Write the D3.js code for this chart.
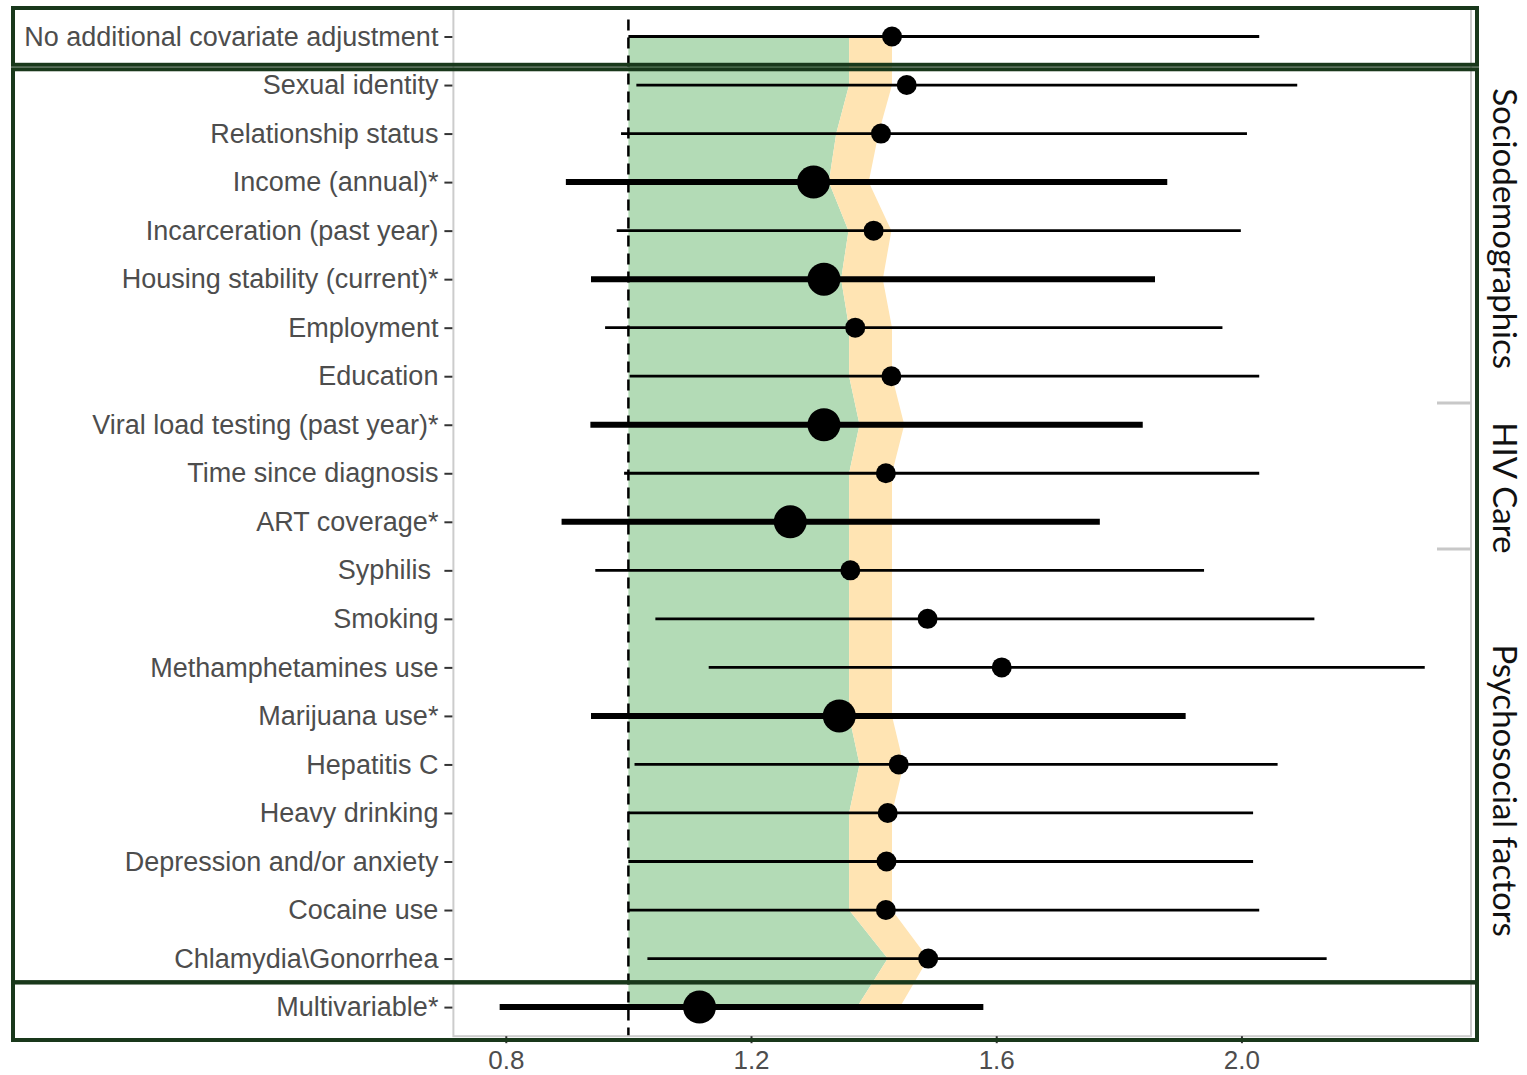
<!DOCTYPE html>
<html>
<head>
<meta charset="utf-8">
<script src="https://cdn.jsdelivr.net/npm/d3@7"></script>
<style>
  html, body { margin: 0; padding: 0; background: #ffffff; }
  svg { display: block; }
  text { white-space: pre; }
</style>
</head>
<body>
<svg id="chart" width="1527" height="1075"></svg>
<script>
// Covariates, top to bottom
const labels = [
  "No additional covariate adjustment",
  "Sexual identity",
  "Relationship status",
  "Income (annual)*",
  "Incarceration (past year)",
  "Housing stability (current)*",
  "Employment",
  "Education",
  "Viral load testing (past year)*",
  "Time since diagnosis",
  "ART coverage*",
  "Syphilis ",
  "Smoking",
  "Methamphetamines use",
  "Marijuana use*",
  "Hepatitis C",
  "Heavy drinking",
  "Depression and/or anxiety",
  "Cocaine use",
  "Chlamydia\\Gonorrhea",
  "Multivariable*"
];

// Point estimates with 95% confidence limits
const estimate = [1.430, 1.454, 1.412, 1.302, 1.400, 1.319, 1.370, 1.429, 1.319, 1.420,
                  1.264, 1.362, 1.488, 1.609, 1.344, 1.441, 1.423, 1.421, 1.420, 1.489, 1.116];
const lower    = [1.000, 1.013, 0.988, 0.898, 0.981, 0.939, 0.962, 1.002, 0.938, 0.993,
                  0.891, 0.946, 1.044, 1.131, 0.939, 1.010, 1.000, 1.000, 1.000, 1.031, 0.790];
const upper    = [2.029, 2.091, 2.009, 1.879, 1.999, 1.859, 1.969, 2.029, 1.839, 2.029,
                  1.769, 1.939, 2.119, 2.299, 1.909, 2.059, 2.019, 2.019, 2.029, 2.139, 1.579];

// Covariates that changed the estimate (drawn heavier)
const flagged  = [0, 0, 0, 1, 0, 1, 0, 0, 1, 0, 1, 0, 0, 0, 1, 0, 0, 0, 0, 0, 1];

// Shaded reference band: green from 1 to bandLow, orange from bandLow to bandHigh
const bandLow  = [1.360, 1.360, 1.339, 1.327, 1.359, 1.347, 1.360, 1.360, 1.377, 1.360,
                  1.360, 1.360, 1.360, 1.360, 1.360, 1.377, 1.360, 1.360, 1.360, 1.423, 1.373];
const bandHigh = [1.430, 1.430, 1.408, 1.392, 1.429, 1.415, 1.430, 1.430, 1.450, 1.430,
                  1.430, 1.430, 1.430, 1.430, 1.430, 1.449, 1.430, 1.430, 1.430, 1.489, 1.443];

const xTicks = [0.8, 1.2, 1.6, 2.0];
const nullValue = 1;

// Covariate groups shown on the right: label position (row units) and separators
const groupNames = ["Sociodemographics", "HIV Care", "Psychosocial factors"];
const groupLabelAt = [3.96, 9.3, 15.54];
const groupBreaks = [7.55, 10.56];

const svg = d3.select("#chart");
const W = 1527, H = 1075;
svg.append("rect").attr("width", W).attr("height", H).attr("fill", "#ffffff");

const panel = { left: 453.4, right: 1471, top: 7.4, bottom: 1036.2 };
const n = labels.length;
const idx = d3.range(n);

// x scale with 5% expansion on either side of the data
const lo = d3.min(lower), hi = d3.max(upper), pad = (hi - lo) * 0.05;
const x = d3.scaleLinear().domain([lo - pad, hi + pad]).range([panel.left, panel.right]);
// discrete rows with 0.6 step of padding at each end
const y = d3.scaleLinear().domain([-0.6, n - 1 + 0.6]).range([panel.top, panel.bottom]);

const g = svg.append("g");

// bands
const greenArea = d3.area().curve(d3.curveLinear)
  .y(i => y(i)).x0(() => x(nullValue)).x1(i => x(bandLow[i]));
const orangeArea = d3.area().curve(d3.curveLinear)
  .y(i => y(i)).x0(i => x(bandLow[i])).x1(i => x(bandHigh[i]));
g.append("path").attr("d", greenArea(idx)).attr("fill", "#b3dbb6");
g.append("path").attr("d", orangeArea(idx)).attr("fill", "#ffe4b3");

// null line
g.append("line")
  .attr("x1", x(nullValue)).attr("x2", x(nullValue))
  .attr("y1", panel.top + 12).attr("y2", panel.bottom)
  .attr("stroke", "#000").attr("stroke-width", 2.5)
  .attr("stroke-dasharray", "11,7");

// confidence intervals
g.selectAll("line.ci").data(idx).join("line")
  .attr("class", "ci")
  .attr("x1", i => x(lower[i])).attr("x2", i => x(upper[i]))
  .attr("y1", i => y(i)).attr("y2", i => y(i))
  .attr("stroke", "#000")
  .attr("stroke-width", i => flagged[i] ? 6 : 2.8);

// point estimates
g.selectAll("circle.pt").data(idx).join("circle")
  .attr("class", "pt")
  .attr("cx", i => x(estimate[i])).attr("cy", i => y(i))
  .attr("r", i => flagged[i] ? 16.5 : 10)
  .attr("fill", "#000");

// panel border
svg.append("rect")
  .attr("x", panel.left).attr("y", panel.top)
  .attr("width", panel.right - panel.left).attr("height", panel.bottom - panel.top)
  .attr("fill", "none").attr("stroke", "#cccccc").attr("stroke-width", 2);

// y axis
const yAxis = svg.append("g")
  .attr("transform", `translate(${panel.left - 1},0)`)
  .call(d3.axisLeft(y).tickValues(idx).tickFormat(i => labels[i]).tickSize(8).tickPadding(6));
yAxis.select(".domain").remove();
yAxis.selectAll(".tick line").attr("stroke", "#333333").attr("stroke-width", 2);
yAxis.selectAll(".tick text")
  .attr("fill", "#4d4d4d")
  .style("font-family", "'Liberation Sans', Arial, sans-serif")
  .style("font-size", "27px");

// x axis
const xAxis = svg.append("g")
  .attr("transform", `translate(0,${panel.bottom})`)
  .call(d3.axisBottom(x).tickValues(xTicks).tickFormat(d3.format(".1f")).tickSize(7).tickPadding(7));
xAxis.select(".domain").remove();
xAxis.selectAll(".tick line").attr("stroke", "#333333").attr("stroke-width", 2);
xAxis.selectAll(".tick text")
  .attr("fill", "#4d4d4d")
  .style("font-family", "'Liberation Sans', Arial, sans-serif")
  .style("font-size", "26px");

// group separators on the right edge
svg.selectAll("line.sep").data(groupBreaks).join("line")
  .attr("class", "sep")
  .attr("x1", panel.right - 34).attr("x2", panel.right)
  .attr("y1", d => y(d)).attr("y2", d => y(d))
  .attr("stroke", "#c8c8c8").attr("stroke-width", 3);

// outline boxes: header row, covariate rows, multivariable row
const boxEdges = [
  [8, y(0.5) + 4],
  [y(0.5) + 8.5, y(19.5) - 0.5],
  [y(19.5) - 0.5, 1040]
];
const boxColor = "#19381b";
svg.selectAll("rect.box").data(boxEdges).join("rect")
  .attr("class", "box")
  .attr("x", 13)
  .attr("y", d => d[0])
  .attr("width", 1477 - 13)
  .attr("height", d => d[1] - d[0])
  .attr("fill", "none").attr("stroke", boxColor).attr("stroke-width", 4);

// group labels, rotated
svg.selectAll("text.grp").data(groupNames).join("text")
  .attr("class", "grp")
  .attr("transform", (d, k) => `translate(1493,${y(groupLabelAt[k])}) rotate(90)`)
  .attr("text-anchor", "middle")
  .attr("fill", "#111111")
  .style("font-family", "Lato, 'Open Sans', sans-serif")
  .style("font-size", "33px")
  .text(d => d);
</script>
</body>
</html>
